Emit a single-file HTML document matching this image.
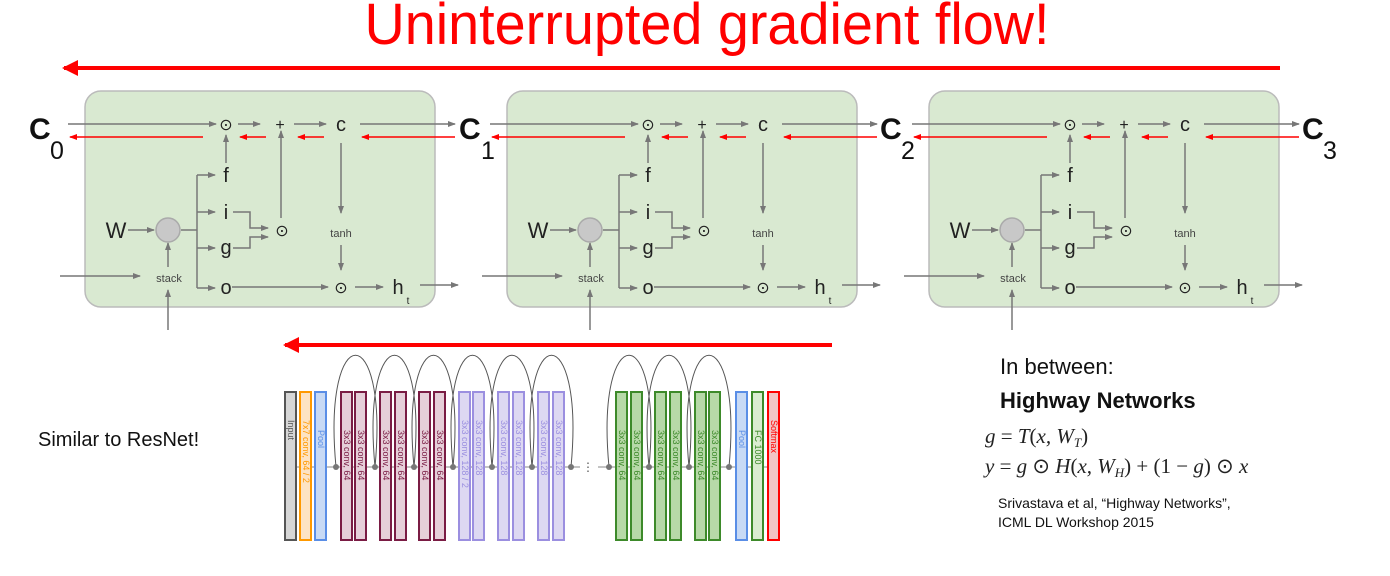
<!DOCTYPE html>
<html><head><meta charset="utf-8"><style>
html,body{margin:0;padding:0;background:#fff;}
svg{display:block;font-family:"Liberation Sans",sans-serif;}
</style></head><body>
<svg width="1390" height="576" viewBox="0 0 1390 576" xmlns="http://www.w3.org/2000/svg">
<defs>
<marker id="ga" markerWidth="8" markerHeight="8" refX="7" refY="4" orient="auto" markerUnits="userSpaceOnUse"><path d="M0,1 L8,4 L0,7 Z" fill="#777"/></marker>
<marker id="ra" markerWidth="8" markerHeight="8" refX="7" refY="4" orient="auto" markerUnits="userSpaceOnUse"><path d="M0,1 L8,4 L0,7 Z" fill="#f00"/></marker>
<marker id="rb" markerWidth="16" markerHeight="16" refX="14" refY="8" orient="auto" markerUnits="userSpaceOnUse"><path d="M0,0 L16,8 L0,16 Z" fill="#f00"/></marker>
</defs>

<text x="707" y="44" font-size="58" fill="#f00" text-anchor="middle" textLength="685" lengthAdjust="spacingAndGlyphs">Uninterrupted gradient flow!</text>
<line x1="1280" y1="68" x2="64" y2="68" stroke="#f00" stroke-width="4" marker-end="url(#rb)"/>

<g stroke="#777" stroke-width="1.5" fill="none">
<rect x="85" y="91" width="350" height="216" rx="16" fill="#d9e9d1" stroke="#bbb"/>
<rect x="507" y="91" width="350" height="216" rx="16" fill="#d9e9d1" stroke="#bbb"/>
<rect x="929" y="91" width="350" height="216" rx="16" fill="#d9e9d1" stroke="#bbb"/>
</g>

<g transform="translate(0,0)" stroke="#777" stroke-width="1.5" fill="none">
<line x1="68" y1="124" x2="216" y2="124" marker-end="url(#ga)"/>
<line x1="238" y1="124" x2="260" y2="124" marker-end="url(#ga)"/>
<line x1="294" y1="124" x2="326" y2="124" marker-end="url(#ga)"/>
<line x1="360" y1="124" x2="455" y2="124" marker-end="url(#ga)"/>
<line x1="203" y1="137" x2="70" y2="137" stroke="#f00" marker-end="url(#ra)"/>
<line x1="266" y1="137" x2="240" y2="137" stroke="#f00" marker-end="url(#ra)"/>
<line x1="324" y1="137" x2="298" y2="137" stroke="#f00" marker-end="url(#ra)"/>
<line x1="455" y1="137" x2="362" y2="137" stroke="#f00" marker-end="url(#ra)"/>
<line x1="226" y1="163" x2="226" y2="135" marker-end="url(#ga)"/>
<polyline points="181,230 197,230"/>
<line x1="197" y1="175" x2="197" y2="288"/>
<line x1="197" y1="175" x2="215" y2="175" marker-end="url(#ga)"/>
<line x1="197" y1="212" x2="215" y2="212" marker-end="url(#ga)"/>
<line x1="197" y1="248" x2="215" y2="248" marker-end="url(#ga)"/>
<line x1="197" y1="288" x2="215" y2="288" marker-end="url(#ga)"/>
<polyline points="233,212 250,212 250,228 268,228" marker-end="url(#ga)"/>
<polyline points="233,248 250,248 250,237 268,237" marker-end="url(#ga)"/>
<line x1="281" y1="218" x2="281" y2="131" marker-end="url(#ga)"/>
<line x1="128" y1="230" x2="154" y2="230" marker-end="url(#ga)"/>
<line x1="60" y1="276" x2="140" y2="276" marker-end="url(#ga)"/>
<line x1="168" y1="267" x2="168" y2="243" marker-end="url(#ga)"/>
<line x1="168" y1="330" x2="168" y2="290" marker-end="url(#ga)"/>
<line x1="341" y1="143" x2="341" y2="213" marker-end="url(#ga)"/>
<line x1="341" y1="245" x2="341" y2="270" marker-end="url(#ga)"/>
<line x1="232" y1="287" x2="328" y2="287" marker-end="url(#ga)"/>
<line x1="355" y1="287" x2="383" y2="287" marker-end="url(#ga)"/>
<line x1="420" y1="285" x2="458" y2="285" marker-end="url(#ga)"/>
<circle cx="168" cy="230" r="12" fill="#c8c8c8" stroke="#aaa"/>
<g stroke="none" fill="#222" font-size="20" text-anchor="middle">
<text x="226" y="130" font-size="16">⊙</text><text x="280" y="130" font-size="16">+</text><text x="341" y="131">c</text>
<text x="226" y="182">f</text><text x="226" y="219">i</text><text x="226" y="254">g</text><text x="226" y="294">o</text>
<text x="282" y="236" font-size="16">⊙</text><text x="341" y="293" font-size="16">⊙</text>
<text x="116" y="238" font-size="22">W</text><text x="169" y="282" font-size="11" fill="#444">stack</text>
<text x="341" y="237" font-size="11" fill="#444">tanh</text>
<text x="398" y="294">h</text><text x="408" y="304" font-size="10">t</text>
</g>
</g>

<g transform="translate(422,0)" stroke="#777" stroke-width="1.5" fill="none">
<line x1="68" y1="124" x2="216" y2="124" marker-end="url(#ga)"/>
<line x1="238" y1="124" x2="260" y2="124" marker-end="url(#ga)"/>
<line x1="294" y1="124" x2="326" y2="124" marker-end="url(#ga)"/>
<line x1="360" y1="124" x2="455" y2="124" marker-end="url(#ga)"/>
<line x1="203" y1="137" x2="70" y2="137" stroke="#f00" marker-end="url(#ra)"/>
<line x1="266" y1="137" x2="240" y2="137" stroke="#f00" marker-end="url(#ra)"/>
<line x1="324" y1="137" x2="298" y2="137" stroke="#f00" marker-end="url(#ra)"/>
<line x1="455" y1="137" x2="362" y2="137" stroke="#f00" marker-end="url(#ra)"/>
<line x1="226" y1="163" x2="226" y2="135" marker-end="url(#ga)"/>
<polyline points="181,230 197,230"/>
<line x1="197" y1="175" x2="197" y2="288"/>
<line x1="197" y1="175" x2="215" y2="175" marker-end="url(#ga)"/>
<line x1="197" y1="212" x2="215" y2="212" marker-end="url(#ga)"/>
<line x1="197" y1="248" x2="215" y2="248" marker-end="url(#ga)"/>
<line x1="197" y1="288" x2="215" y2="288" marker-end="url(#ga)"/>
<polyline points="233,212 250,212 250,228 268,228" marker-end="url(#ga)"/>
<polyline points="233,248 250,248 250,237 268,237" marker-end="url(#ga)"/>
<line x1="281" y1="218" x2="281" y2="131" marker-end="url(#ga)"/>
<line x1="128" y1="230" x2="154" y2="230" marker-end="url(#ga)"/>
<line x1="60" y1="276" x2="140" y2="276" marker-end="url(#ga)"/>
<line x1="168" y1="267" x2="168" y2="243" marker-end="url(#ga)"/>
<line x1="168" y1="330" x2="168" y2="290" marker-end="url(#ga)"/>
<line x1="341" y1="143" x2="341" y2="213" marker-end="url(#ga)"/>
<line x1="341" y1="245" x2="341" y2="270" marker-end="url(#ga)"/>
<line x1="232" y1="287" x2="328" y2="287" marker-end="url(#ga)"/>
<line x1="355" y1="287" x2="383" y2="287" marker-end="url(#ga)"/>
<line x1="420" y1="285" x2="458" y2="285" marker-end="url(#ga)"/>
<circle cx="168" cy="230" r="12" fill="#c8c8c8" stroke="#aaa"/>
<g stroke="none" fill="#222" font-size="20" text-anchor="middle">
<text x="226" y="130" font-size="16">⊙</text><text x="280" y="130" font-size="16">+</text><text x="341" y="131">c</text>
<text x="226" y="182">f</text><text x="226" y="219">i</text><text x="226" y="254">g</text><text x="226" y="294">o</text>
<text x="282" y="236" font-size="16">⊙</text><text x="341" y="293" font-size="16">⊙</text>
<text x="116" y="238" font-size="22">W</text><text x="169" y="282" font-size="11" fill="#444">stack</text>
<text x="341" y="237" font-size="11" fill="#444">tanh</text>
<text x="398" y="294">h</text><text x="408" y="304" font-size="10">t</text>
</g>
</g>

<g transform="translate(844,0)" stroke="#777" stroke-width="1.5" fill="none">
<line x1="68" y1="124" x2="216" y2="124" marker-end="url(#ga)"/>
<line x1="238" y1="124" x2="260" y2="124" marker-end="url(#ga)"/>
<line x1="294" y1="124" x2="326" y2="124" marker-end="url(#ga)"/>
<line x1="360" y1="124" x2="455" y2="124" marker-end="url(#ga)"/>
<line x1="203" y1="137" x2="70" y2="137" stroke="#f00" marker-end="url(#ra)"/>
<line x1="266" y1="137" x2="240" y2="137" stroke="#f00" marker-end="url(#ra)"/>
<line x1="324" y1="137" x2="298" y2="137" stroke="#f00" marker-end="url(#ra)"/>
<line x1="455" y1="137" x2="362" y2="137" stroke="#f00" marker-end="url(#ra)"/>
<line x1="226" y1="163" x2="226" y2="135" marker-end="url(#ga)"/>
<polyline points="181,230 197,230"/>
<line x1="197" y1="175" x2="197" y2="288"/>
<line x1="197" y1="175" x2="215" y2="175" marker-end="url(#ga)"/>
<line x1="197" y1="212" x2="215" y2="212" marker-end="url(#ga)"/>
<line x1="197" y1="248" x2="215" y2="248" marker-end="url(#ga)"/>
<line x1="197" y1="288" x2="215" y2="288" marker-end="url(#ga)"/>
<polyline points="233,212 250,212 250,228 268,228" marker-end="url(#ga)"/>
<polyline points="233,248 250,248 250,237 268,237" marker-end="url(#ga)"/>
<line x1="281" y1="218" x2="281" y2="131" marker-end="url(#ga)"/>
<line x1="128" y1="230" x2="154" y2="230" marker-end="url(#ga)"/>
<line x1="60" y1="276" x2="140" y2="276" marker-end="url(#ga)"/>
<line x1="168" y1="267" x2="168" y2="243" marker-end="url(#ga)"/>
<line x1="168" y1="330" x2="168" y2="290" marker-end="url(#ga)"/>
<line x1="341" y1="143" x2="341" y2="213" marker-end="url(#ga)"/>
<line x1="341" y1="245" x2="341" y2="270" marker-end="url(#ga)"/>
<line x1="232" y1="287" x2="328" y2="287" marker-end="url(#ga)"/>
<line x1="355" y1="287" x2="383" y2="287" marker-end="url(#ga)"/>
<line x1="420" y1="285" x2="458" y2="285" marker-end="url(#ga)"/>
<circle cx="168" cy="230" r="12" fill="#c8c8c8" stroke="#aaa"/>
<g stroke="none" fill="#222" font-size="20" text-anchor="middle">
<text x="226" y="130" font-size="16">⊙</text><text x="280" y="130" font-size="16">+</text><text x="341" y="131">c</text>
<text x="226" y="182">f</text><text x="226" y="219">i</text><text x="226" y="254">g</text><text x="226" y="294">o</text>
<text x="282" y="236" font-size="16">⊙</text><text x="341" y="293" font-size="16">⊙</text>
<text x="116" y="238" font-size="22">W</text><text x="169" y="282" font-size="11" fill="#444">stack</text>
<text x="341" y="237" font-size="11" fill="#444">tanh</text>
<text x="398" y="294">h</text><text x="408" y="304" font-size="10">t</text>
</g>
</g>

<g fill="#111" font-size="30" font-weight="bold">
<text x="29" y="139">C</text><text x="50" y="159" font-size="25" font-weight="normal">0</text>
<text x="459" y="139">C</text><text x="481" y="159" font-size="25" font-weight="normal">1</text>
<text x="880" y="139">C</text><text x="901" y="159" font-size="25" font-weight="normal">2</text>
<text x="1302" y="139">C</text><text x="1323" y="159" font-size="25" font-weight="normal">3</text>
</g>

<line x1="832" y1="345" x2="285" y2="345" stroke="#f00" stroke-width="4" marker-end="url(#rb)"/>
<text x="38" y="446" font-size="20" fill="#111">Similar to ResNet!</text>

<g fill="none" stroke="#555" stroke-width="1">
<path d="M336,467 C322,318 389,318 375,467"/>
<path d="M375,467 C361,318 428,318 414,467"/>
<path d="M414,467 C400,318 467,318 453,467"/>
<path d="M453,467 C439,318 506,318 492,467"/>
<path d="M492,467 C478,318 546,318 532,467"/>
<path d="M532,467 C518,318 585,318 571,467"/>
<path d="M609,467 C595,318 663,318 649,467"/>
<path d="M649,467 C635,318 703,318 689,467"/>
<path d="M689,467 C675,318 743,318 729,467"/>
<line x1="296" y1="467" x2="580" y2="467" stroke="#888"/>
<line x1="598" y1="467" x2="780" y2="467" stroke="#888"/>
</g>
<text x="588" y="471" font-size="12" fill="#555" text-anchor="middle">⋮</text>
<g stroke-width="2">
<rect x="285" y="392" width="11" height="148" fill="#d6d6d6" stroke="#555"/>
<rect x="300" y="392" width="11" height="148" fill="#fde3c3" stroke="#f90"/>
<rect x="315" y="392" width="11" height="148" fill="#c8daf5" stroke="#5a8ee6"/>
<g fill="#e6cfd9" stroke="#7a1c44">
<rect x="341" y="392" width="11" height="148"/><rect x="355" y="392" width="11" height="148"/>
<rect x="380" y="392" width="11" height="148"/><rect x="395" y="392" width="11" height="148"/>
<rect x="419" y="392" width="11" height="148"/><rect x="434" y="392" width="11" height="148"/>
</g>
<g fill="#ddd8f2" stroke="#9b8fe0">
<rect x="459" y="392" width="11" height="148"/><rect x="473" y="392" width="11" height="148"/>
<rect x="498" y="392" width="11" height="148"/><rect x="513" y="392" width="11" height="148"/>
<rect x="538" y="392" width="11" height="148"/><rect x="553" y="392" width="11" height="148"/>
</g>
<g fill="#b7d9a8" stroke="#3d8a2a">
<rect x="616" y="392" width="11" height="148"/><rect x="631" y="392" width="11" height="148"/>
<rect x="655" y="392" width="11" height="148"/><rect x="670" y="392" width="11" height="148"/>
<rect x="695" y="392" width="11" height="148"/><rect x="709" y="392" width="11" height="148"/>
</g>
<rect x="736" y="392" width="11" height="148" fill="#c8daf5" stroke="#5a8ee6"/>
<rect x="752" y="392" width="11" height="148" fill="#d9ecd0" stroke="#3d8a2a"/>
<rect x="768" y="392" width="11" height="148" fill="#f2c4c4" stroke="#f00"/>
</g>
<g fill="#777">
<circle cx="336" cy="467" r="3"/><circle cx="375" cy="467" r="3"/><circle cx="414" cy="467" r="3"/><circle cx="453" cy="467" r="3"/><circle cx="492" cy="467" r="3"/><circle cx="532" cy="467" r="3"/><circle cx="571" cy="467" r="3"/><circle cx="609" cy="467" r="3"/><circle cx="649" cy="467" r="3"/><circle cx="689" cy="467" r="3"/><circle cx="729" cy="467" r="3"/>
</g>
<g font-size="9" fill="#555">
<text transform="translate(288,420) rotate(90)">Input</text>
<text transform="translate(303,420) rotate(90)" fill="#f90">7x7 conv, 64 / 2</text>
<text transform="translate(318,430) rotate(90)" fill="#5a8ee6">Pool</text>
<g fill="#7a1c44">
<text transform="translate(344,430) rotate(90)">3x3 conv, 64</text><text transform="translate(358,430) rotate(90)">3x3 conv, 64</text>
<text transform="translate(383,430) rotate(90)">3x3 conv, 64</text><text transform="translate(398,430) rotate(90)">3x3 conv, 64</text>
<text transform="translate(422,430) rotate(90)">3x3 conv, 64</text><text transform="translate(437,430) rotate(90)">3x3 conv, 64</text>
</g>
<g fill="#9b8fe0">
<text transform="translate(462,420) rotate(90)">3x3 conv, 128 / 2</text><text transform="translate(476,420) rotate(90)">3x3 conv, 128</text>
<text transform="translate(501,420) rotate(90)">3x3 conv, 128</text><text transform="translate(516,420) rotate(90)">3x3 conv, 128</text>
<text transform="translate(541,420) rotate(90)">3x3 conv, 128</text><text transform="translate(556,420) rotate(90)">3x3 conv, 128</text>
</g>
<g fill="#3d8a2a">
<text transform="translate(619,430) rotate(90)">3x3 conv, 64</text><text transform="translate(634,430) rotate(90)">3x3 conv, 64</text>
<text transform="translate(658,430) rotate(90)">3x3 conv, 64</text><text transform="translate(673,430) rotate(90)">3x3 conv, 64</text>
<text transform="translate(698,430) rotate(90)">3x3 conv, 64</text><text transform="translate(712,430) rotate(90)">3x3 conv, 64</text>
<text transform="translate(755,430) rotate(90)">FC 1000</text>
</g>
<text transform="translate(739,430) rotate(90)" fill="#5a8ee6">Pool</text>
<text transform="translate(771,420) rotate(90)" fill="#f00">Softmax</text>
</g>

<text x="1000" y="374" font-size="22" fill="#111">In between:</text>
<text x="1000" y="408" font-size="22" font-weight="bold" fill="#111">Highway Networks</text>
<g font-family="Liberation Serif,serif" font-size="21" fill="#222">
<text x="985" y="443"><tspan font-style="italic">g</tspan> = <tspan font-style="italic">T</tspan>(<tspan font-style="italic">x, W</tspan><tspan font-size="13" font-style="italic" dy="4">T</tspan><tspan dy="-4">)</tspan></text>
<text x="985" y="473"><tspan font-style="italic">y</tspan> = <tspan font-style="italic">g</tspan> ⊙ <tspan font-style="italic">H</tspan>(<tspan font-style="italic">x, W</tspan><tspan font-size="13" font-style="italic" dy="4">H</tspan><tspan dy="-4">) + (1 − </tspan><tspan font-style="italic">g</tspan>) ⊙ <tspan font-style="italic">x</tspan></text>
</g>
<text x="998" y="508" font-size="14" fill="#111">Srivastava et al, “Highway Networks”,</text>
<text x="998" y="527" font-size="14" fill="#111">ICML DL Workshop 2015</text>
</svg>
</body></html>
